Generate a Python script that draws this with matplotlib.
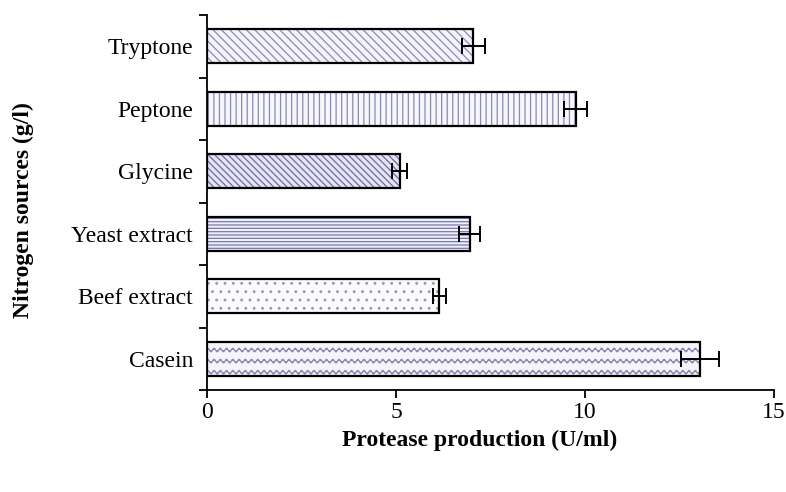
import warnings
warnings.filterwarnings("ignore")
import numpy as np
import matplotlib
matplotlib.use("Agg")
import matplotlib.pyplot as plt
from matplotlib.path import Path
from matplotlib import hatch as mhatch

categories = ["Casein", "Beef extract", "Yeast extract", "Glycine", "Peptone", "Tryptone"]
values = [13.05, 6.15, 6.95, 5.1, 9.75, 7.05]
errors = [0.5, 0.18, 0.28, 0.2, 0.3, 0.3]
hatches = ["~~", "..", "-----", "\\\\\\\\\\", "|||", "\\\\\\\\"]
hatch_colors = ["#8a8ab0", "#9a9ab8", "#7878b0", "#6a6aa8", "#8a8ab8", "#8a8ab8"]
face_colors = ["#f4f4fa", "#fbfbfd", "#f0f0f8", "#e4e4f2", "#f6f6fb", "#f4f4fa"]


class Wavy(mhatch.HatchPatternBase):
    filled = False

    def __init__(self, hatch, density):
        self.num_lines = int(hatch.count('~') * density * 0.75)
        self.npts = 161
        self.num_vertices = self.num_lines * self.npts

    def set_vertices_and_codes(self, vertices, codes):
        n = self.num_lines
        if n == 0:
            return
        xs = np.linspace(0, 1, self.npts)
        amp = 0.018
        for i in range(n):
            y0 = (i + 0.5) / n
            s = slice(i * self.npts, (i + 1) * self.npts)
            vertices[s, 0] = xs
            vertices[s, 1] = y0 + amp * np.sin(2 * np.pi * 16 * xs)
            codes[s] = Path.LINETO
            codes[i * self.npts] = Path.MOVETO


mhatch._hatch_types.append(Wavy)

plt.rcParams['font.family'] = ['Liberation Serif', 'DejaVu Serif']
plt.rcParams['hatch.linewidth'] = 0.9

fig = plt.figure(figsize=(7.86, 4.92), dpi=100)
ax = fig.add_axes([207 / 786, 1 - 390 / 492, (774 - 207) / 786, 375 / 492])

y = np.arange(len(categories))
for i in range(len(categories)):
    plt.rcParams['hatch.color'] = hatch_colors[i]
    ax.barh(y[i], values[i], height=0.55, color=face_colors[i],
            hatch=hatches[i], edgecolor=hatch_colors[i], linewidth=0, zorder=2)
ax.barh(y, values, height=0.55, fill=False, edgecolor='black', linewidth=1.6, zorder=3)
ax.errorbar(values, y, xerr=errors, fmt='none', ecolor='black', elinewidth=1.4,
            capsize=6, capthick=1.4, zorder=4)

ax.set_xlim(0, 15)
ax.set_ylim(-0.5, len(categories) - 0.5)
ax.set_xticks([0, 5, 10, 15])
ax.set_yticks(np.arange(-0.5, len(categories), 1.0))
ax.set_yticklabels([])
ax.set_yticks(y, minor=True)
ax.set_yticklabels(categories, minor=True, fontsize=17)
ax.tick_params(axis='y', which='minor', length=0, pad=10)
ax.tick_params(axis='y', which='major', length=6, width=1.3, direction='out')
ax.tick_params(axis='x', length=6, width=1.3, direction='out', labelsize=17, pad=3)
for s in ['top', 'right']:
    ax.spines[s].set_visible(False)
for s in ['left', 'bottom']:
    ax.spines[s].set_linewidth(1.3)

ax.set_xlabel("Protease production (U/ml)", fontsize=17, fontweight='bold')
ax.set_ylabel("Nitrogen sources (g/l)", fontsize=17, fontweight='bold')
ax.xaxis.set_label_coords((480 - 207) / 567, -(430 - 390) / 375)
ax.yaxis.set_label_coords(-(207 - 34) / 567, 0.48)

fig.savefig("out.png", dpi=100, facecolor='white')
